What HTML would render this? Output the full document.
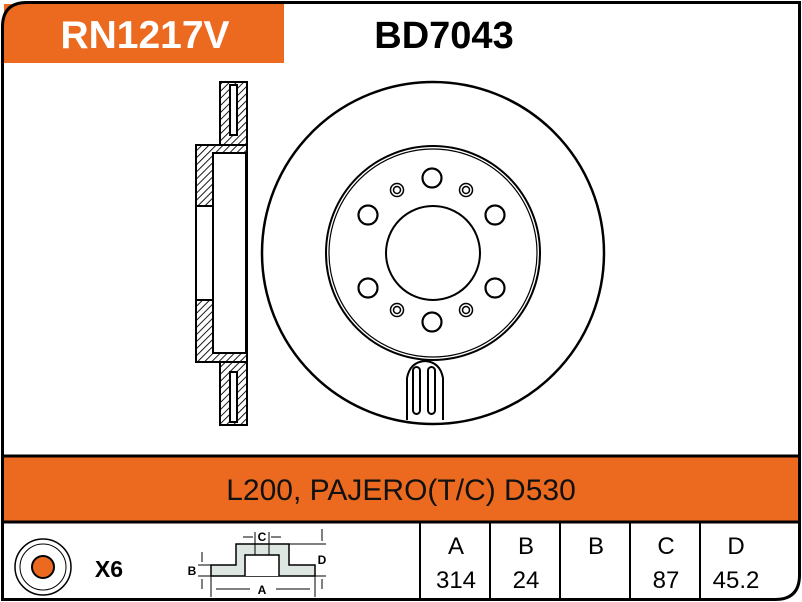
<!DOCTYPE html>
<html><head><style>body{margin:0;background:#fff}svg{display:block}</style></head><body>
<svg width="802" height="602" viewBox="0 0 802 602" xmlns="http://www.w3.org/2000/svg" font-family="Liberation Sans, Arial, sans-serif">
<defs>
<pattern id="h" width="5" height="5" patternUnits="userSpaceOnUse" patternTransform="rotate(45)">
<rect width="5" height="5" fill="#fff"/><line x1="0" y1="0" x2="0" y2="5" stroke="#000" stroke-width="1.8"/></pattern>
</defs>
<path d="M4 4 H284 V63 H4 Z" fill="#ec6a20"/>
<text x="145" y="48" text-anchor="middle" font-size="39" font-weight="bold" fill="#fff">RN1217V</text>
<text x="444" y="48" text-anchor="middle" font-size="38" font-weight="bold" fill="#000">BD7043</text>
<rect x="3" y="456" width="796" height="66" fill="#ec6a20"/>
<line x1="3" y1="456" x2="799" y2="456" stroke="#000" stroke-width="3"/>
<line x1="3" y1="522" x2="799" y2="522" stroke="#000" stroke-width="3"/>
<text x="401" y="500" text-anchor="middle" font-size="30" fill="#111">L200, PAJERO(T/C) D530</text>
<path d="M27 2.5 H799.5 V575 Q799.5 599.5 775 599.5 H2.5 V27 Q2.5 2.5 27 2.5 Z" fill="none" stroke="#000" stroke-width="3"/>
<g stroke="#000" stroke-width="2">
<line x1="420" y1="522" x2="420" y2="598"/><line x1="490" y1="522" x2="490" y2="598"/>
<line x1="560" y1="522" x2="560" y2="598"/><line x1="630" y1="522" x2="630" y2="598"/>
<line x1="700" y1="522" x2="700" y2="598"/></g>
<g font-size="24" text-anchor="middle" fill="#000">
<text x="456" y="554">A</text><text x="526" y="554">B</text><text x="596" y="554">B</text><text x="666" y="554">C</text><text x="736" y="554">D</text>
<text x="456" y="588">314</text><text x="526" y="588">24</text><text x="666" y="588">87</text><text x="736" y="588">45.2</text></g>
<circle cx="43" cy="567" r="28" fill="#fff" stroke="#000" stroke-width="1.5"/>
<circle cx="43" cy="567" r="23" fill="none" stroke="#000" stroke-width="1"/>
<circle cx="43" cy="567" r="11" fill="#ec6a20" stroke="#000" stroke-width="2"/>
<text x="109" y="577" text-anchor="middle" font-size="23" font-weight="bold">X6</text>
<path d="M211 565 H236 V544 H289 V565 H315 V576 H211 Z" fill="#dde6e0" stroke="#000" stroke-width="1.5"/>
<path d="M245 576 V555 H279 V576" fill="#fff" stroke="#000" stroke-width="1.5"/>
<g stroke="#000" stroke-width="1" fill="none">
<line x1="255" y1="532" x2="255" y2="555"/><line x1="269" y1="532" x2="269" y2="555"/>
<line x1="289" y1="544" x2="326" y2="544"/><line x1="315" y1="576" x2="326" y2="576"/>
<line x1="198" y1="565" x2="211" y2="565"/><line x1="198" y1="576" x2="211" y2="576"/>
<line x1="211" y1="576" x2="211" y2="597"/><line x1="315" y1="576" x2="315" y2="597"/>
<line x1="216" y1="589" x2="310" y2="589"/><line x1="243" y1="537" x2="253" y2="537"/><line x1="271" y1="537" x2="281" y2="537"/>
<line x1="202" y1="552" x2="202" y2="562"/><line x1="202" y1="579" x2="202" y2="589"/><line x1="322" y1="529" x2="322" y2="541"/><line x1="322" y1="579" x2="322" y2="589"/></g>
<rect x="250" y="584" width="26" height="10" fill="#fff"/>
<g font-size="12" font-weight="bold" text-anchor="middle"><text x="262" y="594">A</text><text x="262" y="541">C</text><text x="192" y="575">B</text><text x="322" y="564">D</text></g>
<g stroke="#000" stroke-width="2">
<rect x="220" y="82" width="27" height="343" fill="url(#h)"/>
<path d="M196 145 H247 V362 H196 Z" fill="url(#h)"/>
<rect x="213" y="153" width="33" height="200" fill="#fff"/>
<rect x="197" y="206" width="15" height="94" fill="#fff" stroke="none"/>
<line x1="196" y1="206" x2="213" y2="206"/><line x1="196" y1="300" x2="213" y2="300"/>
<rect x="230" y="85" width="7" height="50" fill="#fff"/><rect x="230" y="372" width="7" height="50" fill="#fff"/>
</g>
<g stroke="#000" fill="none">
<circle cx="433" cy="253" r="171" stroke-width="2.5"/>
<circle cx="433" cy="253" r="107" stroke-width="2"/>
<circle cx="433" cy="253" r="104" stroke-width="1.2"/>
<circle cx="433" cy="253" r="47" stroke-width="2"/>
<g stroke-width="2.2"><circle cx="432" cy="178" r="9.5"/><circle cx="368" cy="215" r="9.5"/><circle cx="495" cy="215" r="9.5"/><circle cx="368" cy="288" r="9.5"/><circle cx="495" cy="288" r="9.5"/><circle cx="432" cy="322" r="9.5"/></g>
<g stroke-width="1.5"><circle cx="397" cy="190" r="6.5"/><circle cx="466" cy="190" r="6.5"/><circle cx="397" cy="310" r="6.5"/><circle cx="466" cy="310" r="6.5"/>
<circle cx="397" cy="190" r="3.5"/><circle cx="466" cy="190" r="3.5"/><circle cx="397" cy="310" r="3.5"/><circle cx="466" cy="310" r="3.5"/></g>
<path d="M407 420 V378 Q410 362 425 361 Q440 362 443 378 V420" fill="#fff" stroke-width="2"/>
<rect x="413" y="367" width="7" height="47" rx="3.5" stroke-width="2"/>
<rect x="428" y="367" width="7" height="47" rx="3.5" stroke-width="2"/>
</g>
</svg>
</body></html>
